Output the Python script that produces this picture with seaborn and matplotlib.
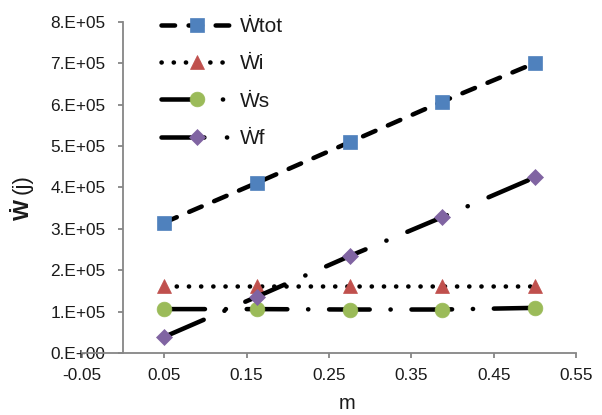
import numpy as np
import pandas as pd
import matplotlib
matplotlib.use("Agg")
import matplotlib.pyplot as plt
import seaborn as sns

# ---- data ----
m_values = [0.05, 0.1625, 0.275, 0.3875, 0.5]
w_tot = [3.15e5, 4.11e5, 5.09e5, 6.07e5, 7.00e5]
w_i = [1.62e5, 1.62e5, 1.62e5, 1.62e5, 1.62e5]
w_s = [1.06e5, 1.06e5, 1.05e5, 1.05e5, 1.09e5]
w_f = [0.39e5, 1.36e5, 2.34e5, 3.28e5, 4.24e5]
series_names = ["Ẇtot", "Ẇi", "Ẇs", "Ẇf"]
x_ticks = [-0.05, 0.05, 0.15, 0.25, 0.35, 0.45, 0.55]
x_tick_labels = ["-0.05", "0.05", "0.15", "0.25", "0.35", "0.45", "0.55"]
y_ticks = [0, 1e5, 2e5, 3e5, 4e5, 5e5, 6e5, 7e5, 8e5]
y_tick_labels = ["0.E+00", "1.E+05", "2.E+05", "3.E+05", "4.E+05",
                 "5.E+05", "6.E+05", "7.E+05", "8.E+05"]
x_label = "m"
y_label_main = "Ẇ"
y_label_unit = "(j)"

sns.set_theme(style="white")
plt.rcParams["font.family"] = ["Liberation Sans", "DejaVu Sans"]

W, H = 602, 415
fig = plt.figure(figsize=(W / 100, H / 100), dpi=100)
ax = fig.add_axes([82 / W, 1 - 353 / H, 494 / W, (353 - 21.7) / H])

LW = 3.25
styles = [
    dict(marker="s", ms=10.6, color="#4F81BD", ls=(0, (3.0, 3.0))),
    dict(marker="^", ms=10.6, color="#C0504D", ls=(0, (0.05, 2.65))),
    dict(marker="o", ms=10.6, color="#9BBB59", ls=(0, (9.0, 4.6, 0.05, 4.6))),
    dict(marker="D", ms=8.0, color="#8064A2", ls=(0, (9.5, 5.0, 0.05, 5.0))),
]
all_vals = [w_tot, w_i, w_s, w_f]

for name, vals, st in zip(series_names, all_vals, styles):
    df = pd.DataFrame({"m": m_values, "W": vals})
    sns.lineplot(data=df, x="m", y="W", ax=ax, color="black", lw=LW,
                 linestyle=st["ls"], dash_capstyle="round",
                 marker=st["marker"], markersize=st["ms"],
                 markerfacecolor=st["color"], markeredgecolor=st["color"],
                 markeredgewidth=0.5, label=name)

ax.set_xlim(-0.05, 0.55)
ax.set_ylim(0, 8e5)
ax.set_xticks(x_ticks)
ax.set_xticklabels(x_tick_labels)
ax.set_yticks(y_ticks)
ax.set_yticklabels(y_tick_labels)

spine_c = "#868686"
for s in ["top", "right"]:
    ax.spines[s].set_visible(False)
ax.spines["left"].set_position(("data", 0))
for s in ["left", "bottom"]:
    ax.spines[s].set_color(spine_c)
    ax.spines[s].set_linewidth(1.3)
ax.tick_params(axis="both", which="major", direction="out", length=3.8,
               width=1.3, color=spine_c, labelsize=12.4, labelcolor="#1a1a1a")
ax.tick_params(axis="y", pad=9, left=True)
ax.tick_params(axis="x", pad=7, bottom=True)
ax.grid(False)

ax.set_xlabel(x_label, fontsize=14.5, color="#1a1a1a")
ax.xaxis.set_label_coords((347 - 82) / 494, (353 - 409) / 331.3)
ax.xaxis.label.set_va("baseline")
ax.set_ylabel("")

fig.text(23 / W, 1 - 209 / H, y_label_main, rotation=90, fontsize=16,
         fontweight="bold", ha="center", va="center", color="#1a1a1a")
fig.text(22 / W, 1 - 184 / H, y_label_unit, rotation=90, fontsize=16,
         ha="center", va="center", color="#1a1a1a")

leg = ax.legend(loc="upper left", bbox_to_anchor=(161 / W, 1 - 17 / H),
                bbox_transform=fig.transFigure, frameon=False, fontsize=15,
                handlelength=3.45, handletextpad=0.35, labelspacing=0.88,
                borderpad=0, borderaxespad=0, numpoints=1)
for t in leg.get_texts():
    t.set_color("#1a1a1a")

fig.savefig("out.png", dpi=100, facecolor="white")
